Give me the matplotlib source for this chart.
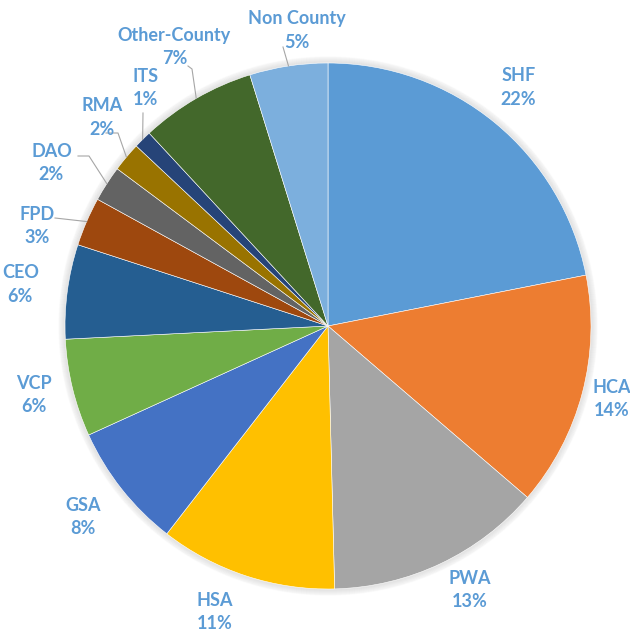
import matplotlib.pyplot as plt
import numpy as np

# department share of total
depts = ['SHF', 'HCA', 'PWA', 'HSA', 'GSA', 'VCP', 'CEO', 'FPD', 'DAO',
         'RMA', 'ITS', 'Other-County', 'Non County']
shares = [21.9, 14.4, 13.3, 10.9, 7.7, 6.0, 5.8, 3.0, 2.2, 1.8, 1.1, 7.1, 4.8]
colors = ['#5B9BD5', '#ED7D31', '#A5A5A5', '#FFC000', '#4472C4', '#70AD47',
          '#255E91', '#9E480E', '#636363', '#997300', '#264478', '#43682B',
          '#7CAFDD']

# label layout: angle shift (deg) from slice middle, radius factor
lab_dang = [0.8, 0.3, 2.9, -3.4, -0.4, -0.5, -0.1, 4.5, 2.3, -2.7, -7.3, -1.2, -2.7]
lab_r = [1.16, 1.115, 1.14, 1.17, 1.18, 1.15, 1.18, 1.17, 1.22, 1.17, 1.14, 1.21, 1.13]
# leader lines (image pixels) for the small slices
leaders = {
    'FPD': [(55, 218)],
    'DAO': [(89, 156), (78, 156)],
    'RMA': [(118, 133), (106, 133)],
    'ITS': [(143, 113)],
    'Other-County': [(192, 69), (188, 66)],
    'Non County': [(283, 47)],
}

W, H = 630, 632
cx, cy, R = 328, H - 326, 263
txt_col = '#5B9BD5'

fig = plt.figure(figsize=(W / 100, H / 100), dpi=100)
ax = fig.add_axes([0, 0, 1, 1])

# soft shadow round the pie
for k in range(1, 7):
    ax.add_patch(plt.Circle((cx, cy), R + k, color='#808080', alpha=0.03, zorder=0))

wedges, _ = ax.pie(shares, colors=colors, startangle=90, counterclock=False,
                   center=(cx, cy), radius=R, frame=True,
                   wedgeprops=dict(edgecolor='white', linewidth=0.4))
ax.set_xlim(0, W)
ax.set_ylim(0, H)
ax.axis('off')

for w, name, val, da, rf in zip(wedges, depts, shares, lab_dang, lab_r):
    mid = np.deg2rad((w.theta1 + w.theta2) / 2)
    lx = cx + R * rf * np.cos(mid + np.deg2rad(da))
    ly = cy + R * rf * np.sin(mid + np.deg2rad(da))
    ax.text(lx, ly, '%s\n%.0f%%' % (name, val), ha='center', va='center',
            color=txt_col, fontsize=13, fontweight='bold', family='Lato',
            linespacing=1.45, zorder=5)
    if name in leaders:
        xs = [cx + R * np.cos(mid)] + [p[0] for p in leaders[name]]
        ys = [cy + R * np.sin(mid)] + [H - p[1] for p in leaders[name]]
        ax.plot(xs, ys, color='#A6A6A6', lw=0.8, zorder=4)

fig.savefig('out.png', dpi=100)
